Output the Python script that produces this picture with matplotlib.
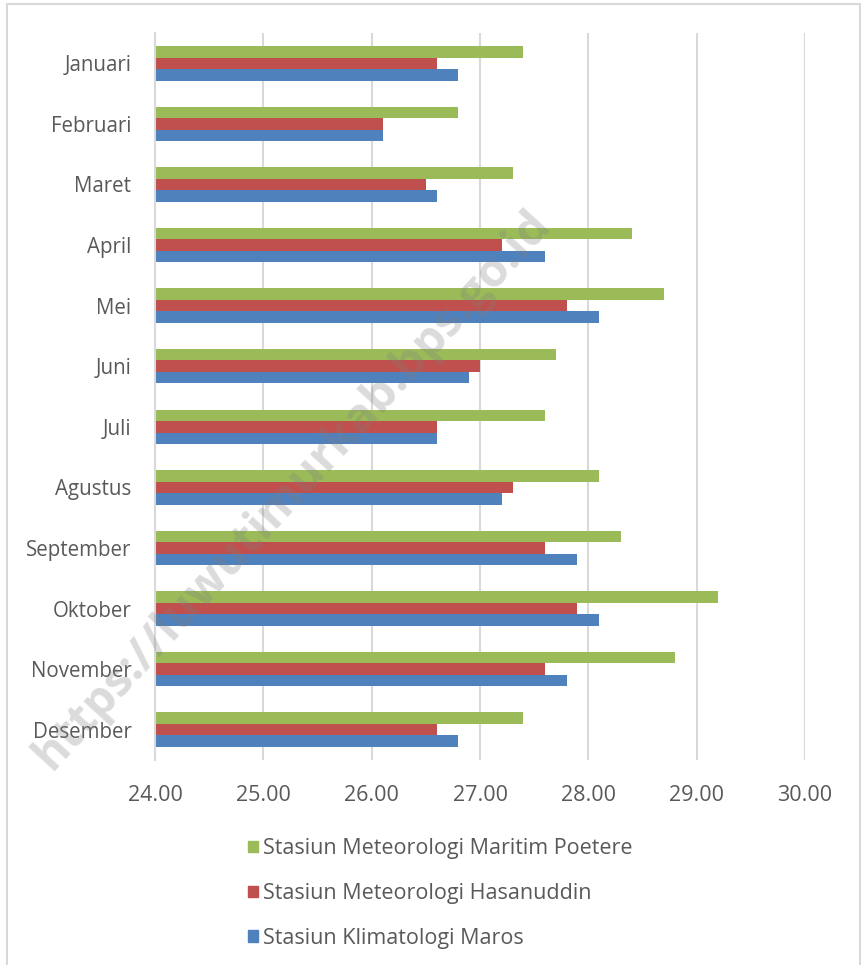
import matplotlib.pyplot as plt
import matplotlib.patches as mpatches
import numpy as np

# data
months = ['Januari', 'Februari', 'Maret', 'April', 'Mei', 'Juni', 'Juli',
          'Agustus', 'September', 'Oktober', 'November', 'Desember']
maros = [26.8, 26.1, 26.6, 27.6, 28.1, 26.9, 26.6, 27.2, 27.9, 28.1, 27.8, 26.8]
hasanuddin = [26.6, 26.1, 26.5, 27.2, 27.8, 27.0, 26.6, 27.3, 27.6, 27.9, 27.6, 26.6]
poetere = [27.4, 26.8, 27.3, 28.4, 28.7, 27.7, 27.6, 28.1, 28.3, 29.2, 28.8, 27.4]
xticks = [24, 25, 26, 27, 28, 29, 30]

c_blue = '#4F81BD'
c_red = '#C0504D'
c_green = '#9BBB59'
txt = '#595959'
grid = '#D9D9D9'

plt.rcParams['font.family'] = ['Open Sans', 'DejaVu Sans']

fig = plt.figure(figsize=(8.61, 9.65), dpi=100)
ax = fig.add_axes([155/861, 1-760/965, 650/861, 727/965])

y = np.arange(len(months))
h = 0.19
base = 24
ax.barh(y - h, np.array(poetere) - base, h, left=base, color=c_green, zorder=2)
ax.barh(y, np.array(hasanuddin) - base, h, left=base, color=c_red, zorder=2)
ax.barh(y + h, np.array(maros) - base, h, left=base, color=c_blue, zorder=2)

ax.set_xlim(24, 30)
ax.set_ylim(len(months) - 0.5, -0.5)
ax.set_xticks(xticks)
ax.set_xticklabels(['%.2f' % v for v in xticks])
ax.set_yticks(y)
ax.set_yticklabels(months)
ax.tick_params(axis='both', length=0, labelcolor=txt)
ax.tick_params(axis='x', pad=18, labelsize=15.5)
ax.tick_params(axis='y', pad=17, labelsize=14.8)
ax.xaxis.grid(True, color=grid, linewidth=1.5, zorder=0)
for s in ['top', 'right', 'bottom']:
    ax.spines[s].set_visible(False)
ax.spines['left'].set_color(grid)
ax.spines['left'].set_linewidth(1.5)
ax.set_axisbelow(True)

handles = [mpatches.Patch(color=c_green, label='Stasiun Meteorologi Maritim Poetere'),
           mpatches.Patch(color=c_red, label='Stasiun Meteorologi Hasanuddin'),
           mpatches.Patch(color=c_blue, label='Stasiun Klimatologi Maros')]
leg = fig.legend(handles=handles, loc='upper left', bbox_to_anchor=(229/861, 1-819/965),
                 frameon=False, fontsize=15.5, handlelength=0.45, handleheight=0.45,
                 handletextpad=0.25, labelspacing=1.1)
for t in leg.get_texts():
    t.set_color(txt)

# watermark
fig.text(292/861, 1-490/965, 'https://luwutimurkab.bps.go.id', rotation=47.5,
         ha='center', va='center', fontsize=34, fontweight='bold',
         color='#7f7f7f', alpha=0.28, zorder=10)

# chart border
fig.add_artist(mpatches.Rectangle((6.5/861, -0.01), 853/861, 1.01 - 3.5/965,
                                  transform=fig.transFigure, fill=False,
                                  edgecolor=grid, linewidth=1.5))

fig.savefig('out.png', dpi=100)
